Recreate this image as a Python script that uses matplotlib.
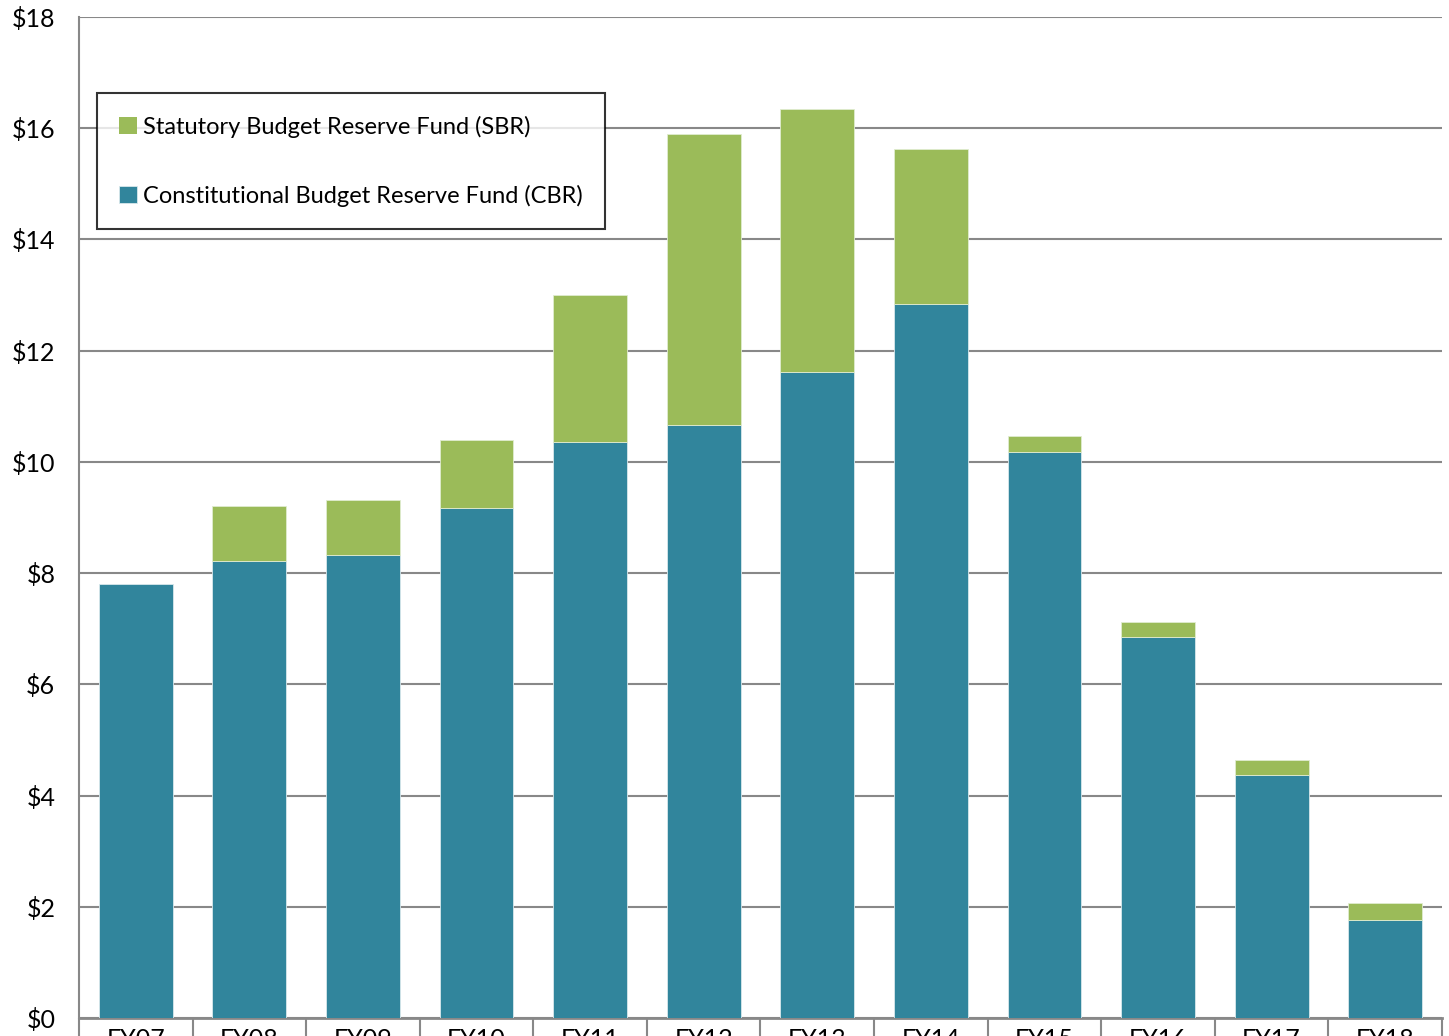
import matplotlib
matplotlib.use("Agg")
import matplotlib.pyplot as plt
import numpy as np

categories = ["FY07", "FY08", "FY09", "FY10", "FY11", "FY12", "FY13", "FY14", "FY15", "FY16", "FY17", "FY18"]
cbr = [7.80, 8.22, 8.33, 9.17, 10.36, 10.66, 11.62, 12.84, 10.18, 6.85, 4.37, 1.76]
sbr = [0.00, 0.99, 0.98, 1.22, 2.64, 5.24, 4.73, 2.79, 0.29, 0.27, 0.27, 0.31]
yticks = [0, 2, 4, 6, 8, 10, 12, 14, 16, 18]
ytick_labels = ["$0", "$2", "$4", "$6", "$8", "$10", "$12", "$14", "$16", "$18"]

plt.rcParams['font.family'] = ['Lato', 'DejaVu Sans']

fig = plt.figure(figsize=(14.49, 10.36), dpi=100)
ax = fig.add_axes([79/1449, 1 - 1018/1036, (1442-79)/1449, (1018-17)/1036])

x = np.arange(len(categories))
teal = "#31859C"
green = "#9BBB59"
ax.bar(x, cbr, width=0.65, color=teal, edgecolor="#d8e8ec", linewidth=0.6, zorder=3,
       label="Constitutional Budget Reserve Fund (CBR)")
sbr_edges = ["none" if v == 0 else "#e0ecd0" for v in sbr]
ax.bar(x, sbr, bottom=cbr, width=0.65, color=green, edgecolor=sbr_edges, linewidth=0.6, zorder=3,
       label="Statutory Budget Reserve Fund (SBR)")

ax.set_xlim(-0.5, len(categories) - 0.5)
ax.set_ylim(0, 18)
ax.set_yticks(yticks)
ax.set_yticklabels(ytick_labels, fontsize=18)
ax.tick_params(axis='y', length=0, pad=17)
ax.yaxis.grid(True, color="#888888", linewidth=1.5, zorder=0)
ax.set_axisbelow(True)

ax.set_xticks(x)
ax.set_xticklabels(categories, fontsize=18)
ax.tick_params(axis='x', which='major', length=0, pad=7)
ax.set_xticks(np.arange(-0.5, len(categories)), minor=True)
ax.tick_params(axis='x', which='minor', length=30, width=1.5, color="#888888", direction='out')

for s in ["top", "right"]:
    ax.spines[s].set_visible(False)
ax.spines["left"].set_color("#888888")
ax.spines["left"].set_linewidth(1.5)
ax.spines["bottom"].set_color("#888888")
ax.spines["bottom"].set_linewidth(2)

handles, labels = ax.get_legend_handles_labels()
leg = ax.legend(handles[::-1], labels[::-1], loc="upper left", bbox_to_anchor=(18/1363, 1 - 76/1001),
                fontsize=17, frameon=True, fancybox=False, edgecolor="black",
                handlelength=0.75, handleheight=0.75, handletextpad=0.25, labelspacing=2.0,
                borderpad=0.95, borderaxespad=0)
leg.get_frame().set_linewidth(1.5)
leg.set_zorder(5)

fig.savefig("out.png", dpi=100, facecolor="white")
